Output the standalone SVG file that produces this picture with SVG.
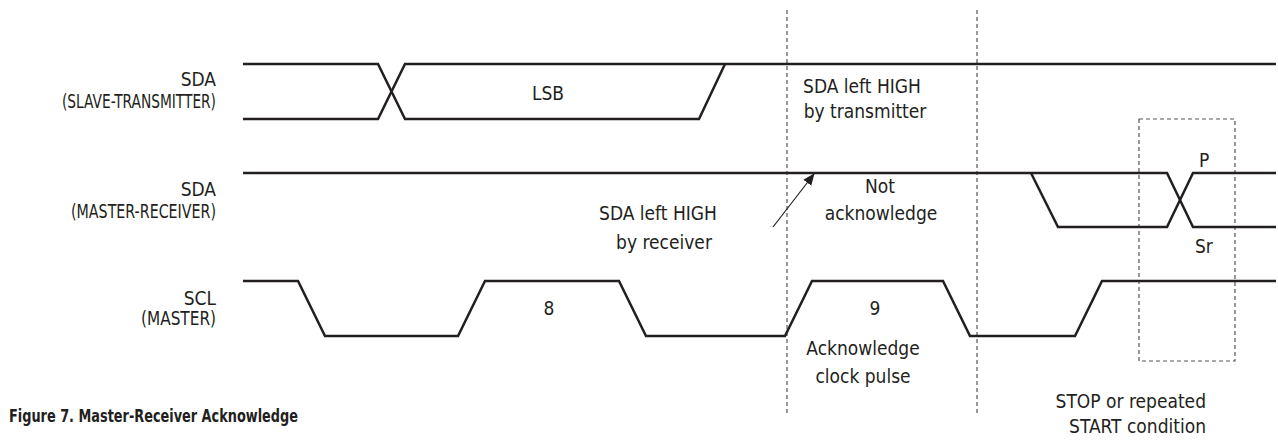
<svg xmlns="http://www.w3.org/2000/svg" width="1278" height="441" viewBox="0 0 1278 441">
<style>
.sig{fill:none;stroke:#231f20;stroke-width:2.5;stroke-linejoin:miter}
.dash{fill:none;stroke:#555;stroke-width:1.2;stroke-dasharray:4 3}
.t{font-family:"Liberation Sans Narrow","DejaVu Sans Condensed","Liberation Sans",sans-serif;font-size:19px;fill:#231f20}
.r{text-anchor:end}
.c{text-anchor:middle}
.cap{font-family:"Liberation Sans Narrow","DejaVu Sans Condensed","Liberation Sans",sans-serif;font-size:17px;font-weight:bold;fill:#231f20}
</style>
<defs>
<marker id="ah" markerWidth="12" markerHeight="12" refX="11" refY="6" orient="auto" markerUnits="userSpaceOnUse" viewBox="0 0 12 12">
<path d="M0,1 L12,6 L0,11 Z" fill="#231f20"/>
</marker>
</defs>
<rect width="1278" height="441" fill="#fff"/>
<g id="guides">
<line class="dash" x1="787" y1="10" x2="787" y2="415"/>
<line class="dash" x1="977" y1="10" x2="977" y2="415"/>
<rect class="dash" x="1139" y="119" width="96" height="242"/>
</g>
<g id="sda-slave">
<text class="t r" x="216" y="86">SDA</text>
<text class="t r" x="216" y="108" textLength="154" lengthAdjust="spacingAndGlyphs">(SLAVE-TRANSMITTER)</text>
<path class="sig" d="M243,64 L378,64 L405,119 L699,119 L725,64"/>
<path class="sig" d="M243,119 L378,119 L405,64 L1276,64"/>
<text class="t c" x="548" y="100">LSB</text>
</g>
<g id="sda-master">
<text class="t r" x="216" y="196">SDA</text>
<text class="t r" x="216" y="218" textLength="145" lengthAdjust="spacingAndGlyphs">(MASTER-RECEIVER)</text>
<path class="sig" d="M243,173 L1167,173 L1193,227 L1276,227"/>
<path class="sig" d="M1031,173 L1058,227 L1167,227 L1193,173 L1276,173"/>
<text class="t" x="1199" y="167">P</text>
<text class="t" x="1195" y="253">Sr</text>
</g>
<g id="scl">
<text class="t r" x="216" y="305">SCL</text>
<text class="t r" x="216" y="325" textLength="75" lengthAdjust="spacingAndGlyphs">(MASTER)</text>
<path class="sig" d="M243,281 L298,281 L325,336 L458,336 L485,281 L619,281 L646,336 L785,336 L812,281 L943,281 L970,336 L1075,336 L1102,281 L1276,281"/>
<text class="t c" x="549" y="315">8</text>
<text class="t c" x="875" y="315">9</text>
</g>
<g id="connectors">
<line x1="773" y1="227" x2="814" y2="174" stroke="#231f20" stroke-width="1.2" marker-end="url(#ah)"/>
</g>
<g id="annotations">
<text class="t c" x="862" y="93">SDA left HIGH</text>
<text class="t c" x="865" y="118">by transmitter</text>
<text class="t c" x="658" y="220">SDA left HIGH</text>
<text class="t c" x="664" y="249">by receiver</text>
<text class="t c" x="880" y="193">Not</text>
<text class="t c" x="881" y="220">acknowledge</text>
<text class="t c" x="863" y="355">Acknowledge</text>
<text class="t c" x="863" y="383">clock pulse</text>
<text class="t r" x="1206" y="408">STOP or repeated</text>
<text class="t r" x="1206" y="433">START condition</text>
<text class="cap" x="9" y="422" textLength="289" lengthAdjust="spacingAndGlyphs">Figure 7. Master-Receiver Acknowledge</text>
</g>
</svg>
